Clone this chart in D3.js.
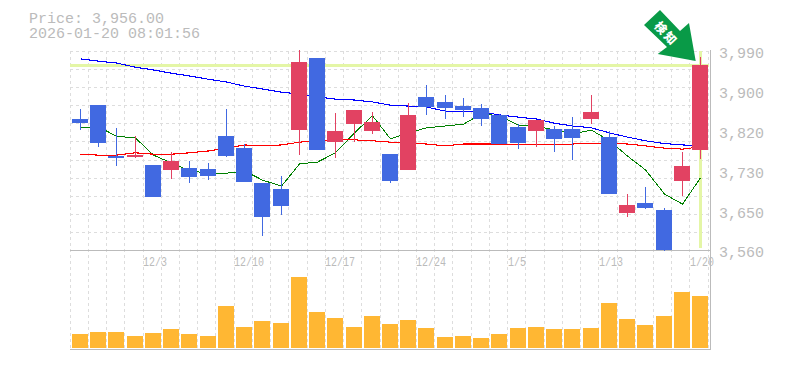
<!DOCTYPE html>
<html><head><meta charset="utf-8">
<style>html,body{margin:0;padding:0;background:#fff;overflow:hidden}svg{display:block}</style>
<script src="https://cdn.jsdelivr.net/npm/d3@7"></script></head>
<body><svg id="c" width="785" height="370"></svg>
<script>
const titleLines = ["Price: 3,956.00", "2026-01-20 08:01:56"];
const dates = ["11/26","11/27","11/28","12/1","12/3","12/4","12/5","12/8","12/9","12/10","12/11","12/12","12/15","12/16","12/17","12/18","12/19","12/22","12/23","12/24","12/25","12/26","12/29","12/30","1/5","1/6","1/7","1/8","1/9","1/13","1/14","1/15","1/16","1/19","1/20"];
const tickLabels = ["12/3","12/10","12/17","12/24","1/5","1/13","1/20"];
const priceTicks = [3990,3904,3818,3732,3646,3560];
const priceTickLabels = ["3,990","3,900","3,820","3,730","3,650","3,560"];
const open  = [3843,3873,3763,3761,3744,3733,3737,3735,3806,3780,3705,3692,3819,3975,3793,3832,3817,3767,3733,3891,3880,3871,3867,3852,3826,3817,3821,3821,3843,3804,3640,3662,3646,3709,3776];
const high  = [3865,3873,3824,3806,3744,3772,3752,3748,3865,3789,3705,3720,3992,3975,3856,3863,3858,3767,3878,3917,3895,3888,3875,3854,3832,3841,3828,3847,3895,3817,3681,3696,3651,3772,3977];
const low   = [3819,3783,3741,3759,3674,3713,3705,3711,3761,3707,3590,3636,3765,3776,3759,3793,3811,3705,3733,3852,3843,3847,3828,3789,3778,3783,3772,3754,3832,3681,3631,3649,3558,3677,3757];
const close = [3834,3791,3759,3765,3674,3752,3718,3720,3763,3707,3631,3655,3966,3776,3817,3863,3837,3709,3852,3869,3867,3863,3843,3789,3791,3841,3800,3802,3858,3681,3657,3651,3560,3741,3960];
const maShort = [3824,3826,3806,3802,3765,3748,3731,3726,3726,3731,3711,3698,3746,3750,3770,3813,3850,3800,3813,3824,3828,3832,3854,3850,3830,3828,3819,3811,3819,3796,3763,3733,3681,3659,3716];
const maMid   = [3767,3765,3765,3770,3767,3767,3770,3774,3780,3787,3785,3787,3793,3796,3798,3798,3796,3793,3791,3789,3785,3789,3789,3789,3787,3787,3787,3789,3791,3791,3789,3785,3780,3778,3783];
const maLong  = [3973,3968,3964,3955,3949,3942,3936,3929,3923,3914,3908,3901,3897,3891,3886,3884,3880,3873,3871,3869,3860,3860,3858,3852,3847,3843,3834,3828,3824,3813,3804,3796,3790,3787,3785];
const volume  = [14,16,16,12,15,19,14,12,42,21,27,25,71,36,30,21,32,24,28,20,11,12,10,14,20,21,19,19,20,45,29,23,32,56,52];
const currentPrice = 3959;
const badgeText = "検知";

const UP = "#e24262", DOWN = "#4169e1", GREY = "#bbbbbb", GRID = "#dddddd", HILITE = "#e4f6a6";
const FONT = "'Liberation Mono', monospace";
const svg = d3.select("#c");

const x = d3.scaleBand().domain(dates).range([70.9, 709.125]);
const y = d3.scaleLinear().domain([3560, 3990]).range([250, 51]);
const yv = d3.scaleLinear().domain([0, 71]).range([348, 277]);
const left = d => Math.round(x(d) + 1.1);
const cx = d => left(d) + 8.5;

// grid
const grid = svg.append("g").attr("stroke", GRID).attr("stroke-dasharray", "3,3").attr("shape-rendering", "crispEdges");
grid.selectAll("line.h").data(d3.range(0, 11).map(i => 51 + i * 199 / 11)).join("line")
  .attr("x1", 70).attr("x2", 710).attr("y1", d => Math.round(d) + .5).attr("y2", d => Math.round(d) + .5);
grid.selectAll("line.v").data(d3.range(0, dates.length + 1).map(i => Math.floor(70.1 + i * 18.23))).join("line")
  .attr("x1", d => d + .5).attr("x2", d => d + .5).attr("y1", 51).attr("y2", 350);

// frame
const frame = svg.append("g").attr("stroke", GREY).attr("shape-rendering", "crispEdges");
frame.append("line").attr("x1", 70).attr("x2", 710).attr("y1", 250.5).attr("y2", 250.5);
frame.append("line").attr("x1", 70).attr("x2", 711).attr("y1", 349.5).attr("y2", 349.5);
frame.append("line").attr("x1", 710.5).attr("x2", 710.5).attr("y1", 50).attr("y2", 350);

// highlight lines
svg.append("line").attr("x1", 70).attr("x2", 709).attr("y1", y(currentPrice)).attr("y2", y(currentPrice))
  .attr("stroke", HILITE).attr("stroke-width", 3).attr("shape-rendering", "crispEdges");
svg.append("line").attr("x1", cx(dates[34])).attr("x2", cx(dates[34])).attr("y1", 51).attr("y2", 248)
  .attr("stroke", HILITE).attr("stroke-width", 3).attr("shape-rendering", "crispEdges");

// moving averages
const mk = arr => d3.line().x((_, i) => cx(dates[i])).y(v => y(v))(arr);
[[maShort, "#008000", 1], [maMid, "#ff0000", 1.1], [maLong, "#0000ff", 1.1]].forEach(([a, c, w]) =>
  svg.append("path").attr("d", mk(a)).attr("fill", "none").attr("stroke", c).attr("stroke-width", w)
    .attr("shape-rendering", "crispEdges"));

// candles
const idx = d3.range(dates.length);
const col = i => close[i] >= open[i] ? UP : DOWN;
svg.append("g").attr("shape-rendering", "crispEdges").selectAll("line").data(idx).join("line")
  .attr("x1", i => cx(dates[i])).attr("x2", i => cx(dates[i]))
  .attr("y1", i => y(high[i])).attr("y2", i => y(low[i])).attr("stroke", col);
svg.append("g").attr("shape-rendering", "crispEdges").selectAll("rect").data(idx).join("rect")
  .attr("x", i => left(dates[i])).attr("width", 16)
  .attr("y", i => y(Math.max(open[i], close[i])))
  .attr("height", i => Math.max(1, Math.abs(y(open[i]) - y(close[i])))).attr("fill", col);

// volume
svg.append("g").attr("shape-rendering", "crispEdges").selectAll("rect").data(idx).join("rect")
  .attr("x", i => left(dates[i])).attr("width", 16)
  .attr("y", i => yv(volume[i])).attr("height", i => yv(0) - yv(volume[i])).attr("fill", "#ffb733");

// text
const title = svg.append("text").attr("font-family", FONT).attr("font-size", 15).attr("fill", GREY);
title.selectAll("tspan").data(titleLines).join("tspan")
  .attr("x", 29).attr("y", (_, i) => 23 + i * 15).text(d => d);
svg.append("g").selectAll("text").data(priceTicks).join("text")
  .attr("x", 719).attr("y", d => y(d) + 7.4).text((_, i) => priceTickLabels[i])
  .attr("font-family", FONT).attr("font-size", 15).attr("fill", GREY);
svg.append("g").selectAll("text").data(tickLabels).join("text")
  .attr("x", d => left(d) - 2).attr("y", 266).text(d => d)
  .attr("font-family", FONT).attr("font-size", 13).attr("fill", GREY)
  .attr("textLength", d => d.length * 6).attr("lengthAdjust", "spacingAndGlyphs");

// badge arrow
const arrow = [[660,10],[680,31],[689,23],[695.7,61],[657.7,54],[667,47],[644,25]];
svg.append("polygon").attr("points", arrow.join(" ")).attr("fill", "#099a47");
svg.append("text").attr("transform", "translate(667,33) rotate(47)").attr("text-anchor", "middle")
  .attr("dominant-baseline", "central").attr("font-family", "'Noto Sans CJK JP'").attr("font-weight", 900)
  .attr("font-size", 12).attr("letter-spacing", 2).attr("fill", "#fff").text(badgeText);
</script></body></html>
